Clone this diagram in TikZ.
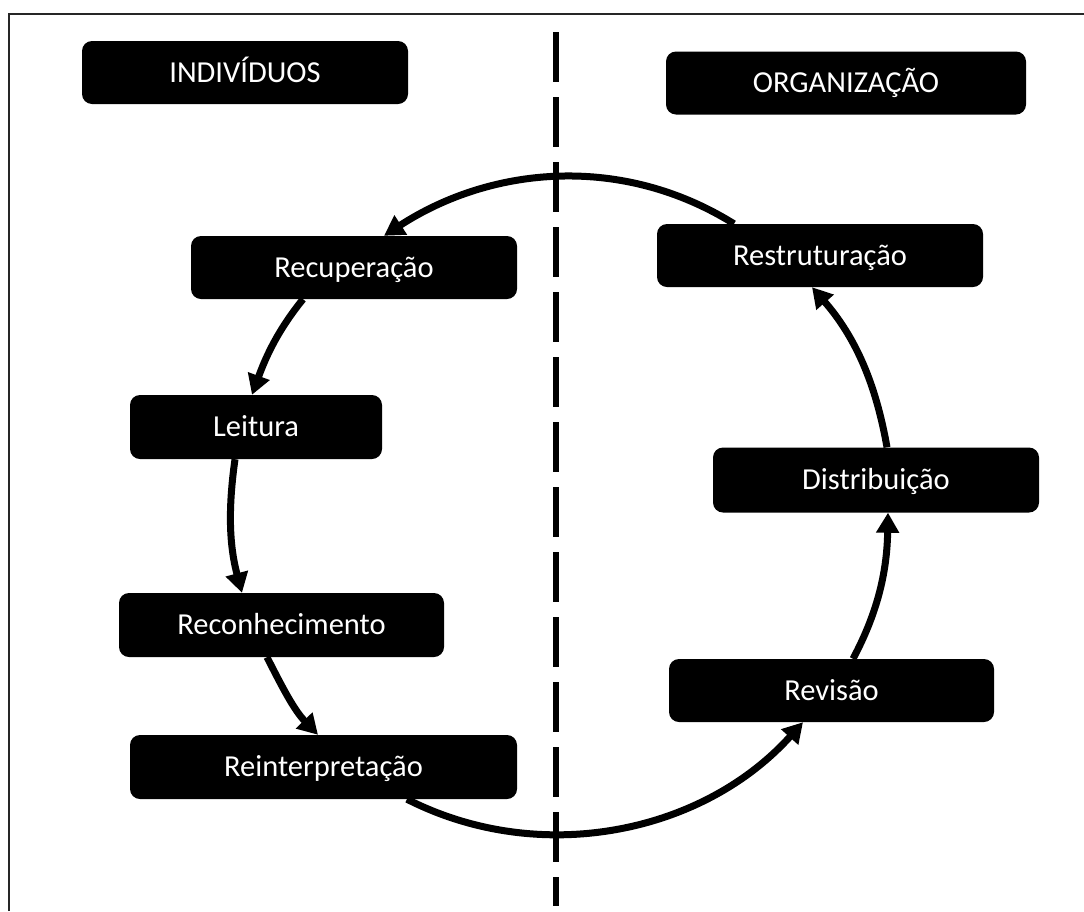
\documentclass[tikz,border=0pt]{standalone}
\usepackage{fontspec}
\setmainfont{Carlito}
\usetikzlibrary{arrows.meta}

\tikzset{
  etapa/.style={fill=black, rounded corners=10pt, minimum width=326pt, minimum height=63pt,
    inner sep=0pt, text=white, text height=19.5pt, text depth=0pt, font=\fontsize{30.5}{36}\selectfont},
  fluxo/.style={line width=7pt, -{Triangle[length=20pt,width=22pt]}, looseness=0.95},
}

\begin{document}
\begin{tikzpicture}[x=1pt,y=1pt]
\useasboundingbox (0,0) rectangle (1084,-911);

% Frame
\draw [line width=2pt, black!85] (9,-911) -- (9,-14) -- (1084,-14);
% Divider
\draw [line width=6pt, dash pattern=on 50pt off 15pt] (556,-32) -- (556,-906);

% Text Node
\node [etapa] (ind) at (245,-72.5) {INDIVÍDUOS};
% Text Node
\node [etapa, minimum width=360pt] (org) at (846,-83) {ORGANIZAÇÃO};
% Text Node
\node [etapa] (recu) at (354,-267.5) {Recuperação};
% Text Node
\node [etapa] (rest) at (820,-255.5) {Restruturação};
% Text Node
\node [etapa, minimum width=252pt, minimum height=64pt] (leit) at (256,-427) {Leitura};
% Text Node
\node [etapa, minimum width=325pt, minimum height=64pt] (recon) at (281.5,-625) {Reconhecimento};
% Text Node
\node [etapa, minimum width=387pt, minimum height=64pt] (reint) at (323.5,-767) {Reinterpretação};
% Text Node
\node [etapa, minimum height=65pt] (dist) at (876,-480) {Distribuição};
% Text Node
\node [etapa, minimum width=325pt] (rev) at (831.5,-690.5) {Revisão};

% Cycle arrows
\draw [fluxo] ([xshift=-86pt]rest.north) to[out=148, in=33] ([xshift=30pt]recu.north);
\draw [fluxo] ([xshift=-51pt]recu.south) to[out=231, in=70] ([xshift=-4pt]leit.north);
\draw [fluxo] ([xshift=-21pt]leit.south) to[out=262, in=105] ([xshift=-39.5pt]recon.north);
\draw [fluxo] ([xshift=-14.5pt]recon.south) to[out=297, in=134] ([xshift=-5.5pt]reint.north);
\draw [fluxo] ([xshift=83.5pt]reint.south) to[out=333, in=228] ([xshift=-28.5pt]rev.south);
\draw [fluxo] ([xshift=21.5pt]rev.north) to[out=62, in=269] ([xshift=12pt]dist.south);
\draw [fluxo] ([xshift=11pt]dist.north) to[out=100, in=311] ([xshift=-8pt]rest.south);

\end{tikzpicture}
\end{document}
